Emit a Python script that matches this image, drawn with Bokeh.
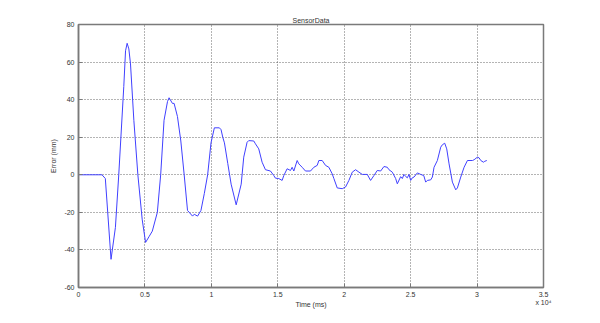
from bokeh.plotting import figure
from bokeh.models import Range1d, FixedTicker
from bokeh.embed import file_html
from bokeh.resources import INLINE

# Time (ms) and error (mm)
time_ms = [0, 1768, 2020, 2449, 2778, 3030, 3409, 3540, 3661, 3790, 3914, 4166, 4469,
           4798, 5050, 5303, 5555, 5934, 6186, 6439, 6700, 6818, 7070, 7196, 7449, 7701,
           7954, 8206, 8585, 8711, 8964, 9216, 9469, 9721, 9974, 10226, 10605, 10731,
           10858, 10984, 11236, 11489, 11868, 12246, 12437, 12689, 12814, 13191, 13317,
           13568, 13819, 14071, 14448, 14699, 14825, 15076, 15327, 15453, 15704, 15955,
           16081, 16207, 16458, 16584, 16835, 17086, 17463, 17715, 17966, 18092, 18343,
           18594, 18845, 19097, 19222, 19474, 19851, 20102, 20353, 20605, 20856, 21107,
           21358, 21735, 21986, 22238, 22489, 22741, 22992, 23243, 23369, 23620, 23871,
           23997, 24248, 24374, 24499, 24625, 24751, 24876, 25002, 25128, 25254, 25505,
           25756, 25987, 26133, 26258, 26510, 26635, 26761, 27012, 27264, 27390, 27566,
           27716, 27892, 28143, 28395, 28520, 28772, 29023, 29274, 29651, 29777, 30028,
           30154, 30280, 30481, 30581, 30731]
error_mm = [0, 0, -2, -45, -28, 0, 47, 66, 70, 67, 59, 29, 0,
            -24, -36, -33, -30, -20, 0, 29, 39, 41, 38, 38, 31, 18,
            0, -19, -22, -21, -22, -19, -10, 0, 17, 25, 25, 24,
            20, 17, 6, -5, -16, -5, 9.4, 17.3, 18.2, 18, 16.5,
            13.8, 6.7, 2.7, 2, -0.4, -1.8, -2, -3, -0.4, 3.2, 2.3,
            4, 2, 7.6, 5.8, 4, 2, 2, 4, 5, 7.6, 7.6,
            5, 4, 0.5, -2, -7, -7.4, -6.5, -3, 1.4, 2.7, 1.4,
            0.2, 0.2, -3, -0.4, 2.3, 2, 4.4, 4, 2.7, 1.4, -2,
            -4.8, -1, -2, 0.2, -0.9, -1.6, 0.2, -3, -1.6, -1.2, 1,
            0.2, -0.4, -3.9, -3, -2.7, -1.2, 4, 7.6, 14.7, 16, 16.8,
            13.8, 5.8, -3.9, -8, -7, -1.2, 4, 7.6, 7.6, 8, 9.4,
            9, 7.6, 6.7, 7.2, 7.6]

x_ticks = [0, 5000, 10000, 15000, 20000, 25000, 30000, 35000]
# last tick carries the MATLAB-style "x 10^4" multiplier on a second line
x_tick_labels = ["0", "0.5", "1", "1.5", "2", "2.5", "3", "3.5\nx 10\u2074"]
y_ticks = [-60, -40, -20, 0, 20, 40, 60, 80]
y_tick_labels = ["-60", "-40", "-20", "0", "20", "40", "60", "80"]

FONT = "Liberation Sans"
AX = "#7a7a7a"
TXT = "#333333"

p = figure(width=584, height=315, output_backend="svg", toolbar_location=None,
           x_range=Range1d(0, 35000), y_range=Range1d(-60, 80),
           min_border_left=78, min_border_right=41, min_border_top=24, min_border_bottom=28,
           title="SensorData")
p.title.text_font = FONT
p.title.text_font_size = "7px"
p.title.text_font_style = "normal"
p.title.align = "center"
p.title.text_color = TXT
p.title.standoff = 2
p.title.offset = 0

p.outline_line_color = AX
p.outline_line_width = 1.5
p.background_fill_color = "white"
p.border_fill_color = "white"

p.line(time_ms, error_mm, line_color="#4040ff", line_width=1)

for ax in (p.xaxis[0], p.yaxis[0]):
    ax.axis_line_color = AX
    ax.axis_line_width = 1.5
    ax.major_tick_line_color = AX
    ax.major_tick_in = 4
    ax.major_tick_out = 0
    ax.minor_tick_line_color = None
    ax.major_label_text_font = FONT
    ax.major_label_text_font_size = "7px"
    ax.major_label_text_color = TXT
    ax.axis_label_text_font = FONT
    ax.axis_label_text_font_size = "7px"
    ax.axis_label_text_font_style = "normal"
    ax.axis_label_text_color = TXT

p.xaxis.ticker = FixedTicker(ticks=x_ticks)
p.xaxis.major_label_overrides = {t: l for t, l in zip(x_ticks, x_tick_labels)}
p.xaxis.axis_label = "Time (ms)"
p.xaxis.major_label_standoff = 3
p.xaxis.axis_label_standoff = -8

p.yaxis.ticker = FixedTicker(ticks=y_ticks)
p.yaxis.major_label_overrides = {t: l for t, l in zip(y_ticks, y_tick_labels)}
p.yaxis.axis_label = "Error (mm)"
p.yaxis.major_label_standoff = 4
p.yaxis.axis_label_standoff = 4

p.xgrid.ticker = FixedTicker(ticks=x_ticks)
p.ygrid.ticker = FixedTicker(ticks=y_ticks)
for g in (p.xgrid[0], p.ygrid[0]):
    g.grid_line_color = "#444444"
    g.grid_line_dash = "1 2"
    g.grid_line_width = 1
    g.grid_line_alpha = 0.8

open("out.html", "w").write(file_html(p, INLINE))
